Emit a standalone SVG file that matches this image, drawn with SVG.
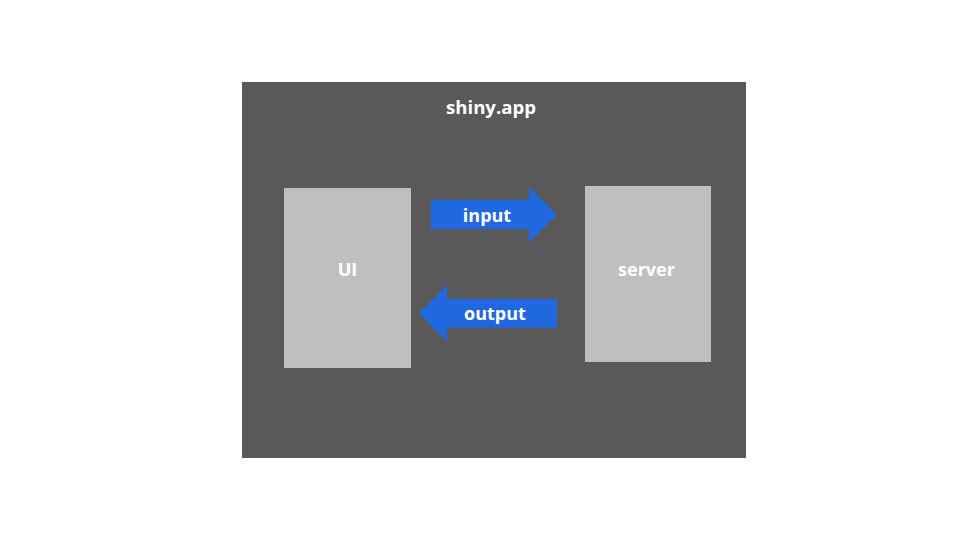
<svg xmlns="http://www.w3.org/2000/svg" width="960" height="540" viewBox="0 0 960 540">
<style>
.lbl{font-family:"Open Sans","Liberation Sans",sans-serif;font-weight:bold;font-size:18px;fill:#ffffff;text-anchor:middle}
.box{fill:#bfbfbf}
.arrow{fill:#2068df}
</style>
<rect width="960" height="540" fill="#ffffff"/>
<g id="app">
<rect x="242" y="82" width="504" height="376" fill="#595959"/>
<text class="lbl" x="491" y="114" style="font-size:18.6px">shiny.app</text>
</g>
<g id="ui">
<rect class="box" x="284" y="188" width="127" height="180"/>
<text class="lbl" x="347.5" y="276">UI</text>
</g>
<g id="server">
<rect class="box" x="585" y="186" width="126" height="176"/>
<text class="lbl" x="646.5" y="275.5">server</text>
</g>
<g id="connectors">
<g id="input">
<polygon class="arrow" points="431,200 529,200 529,187 557,214.5 529,242.5 529,229 431,229"/>
<text class="lbl" x="487" y="221.5">input</text>
</g>
<g id="output">
<polygon class="arrow" points="557,299 447,299 447,285 419,313.3 447,341.7 447,327.7 557,327.7"/>
<text class="lbl" x="495" y="319.5">output</text>
</g>
</g>
</svg>
